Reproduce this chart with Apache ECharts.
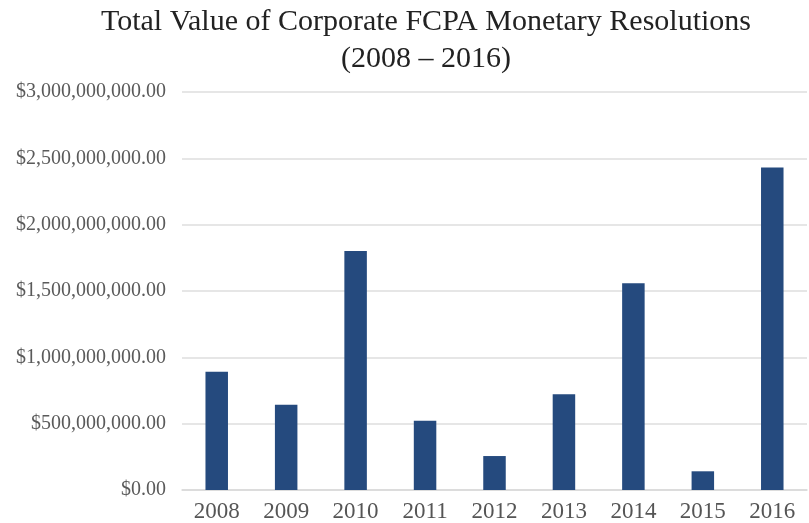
<!DOCTYPE html>
<html>
<head>
<meta charset="utf-8">
<script src="https://cdn.jsdelivr.net/npm/echarts@6/dist/echarts.min.js"></script>
<style>
  html, body { margin: 0; padding: 0; background: #fff; }
  #chart { width: 809px; height: 523px; }
</style>
</head>
<body>
<div id="chart"></div>
<script>
var years = ["2008", "2009", "2010", "2011", "2012", "2013", "2014", "2015", "2016"];
var totals = [892000000, 642000000, 1802000000, 522000000, 256000000, 722000000, 1558000000, 141000000, 2431000000];
var yTicks = { min: 0, max: 3000000000, step: 500000000 };

function money(v) {
  return "$" + Number(v).toLocaleString("en-US", { minimumFractionDigits: 2, maximumFractionDigits: 2 });
}

var chart = echarts.init(document.getElementById("chart"));
chart.setOption({
  animation: false,
  title: {
    text: "Total Value of Corporate FCPA Monetary Resolutions\n(2008 – 2016)",
    left: 421,
    top: -1,
    textAlign: "center",
    textStyle: {
      fontFamily: "Liberation Serif",
      fontWeight: "normal",
      fontSize: 30,
      lineHeight: 37,
      color: "#222"
    }
  },
  grid: { left: 182, right: 2, top: 92, bottom: 30, containLabel: false },
  xAxis: {
    type: "category",
    data: years,
    axisTick: { show: false },
    axisLine: { lineStyle: { color: "#d9d9d9", width: 1.5 } },
    axisLabel: {
      margin: 10,
      fontFamily: "Liberation Serif",
      fontSize: 23,
      color: "#555"
    }
  },
  yAxis: {
    type: "value",
    min: yTicks.min,
    max: yTicks.max,
    interval: yTicks.step,
    axisLine: { show: false },
    axisTick: { show: false },
    splitLine: { lineStyle: { color: "#dedede", width: 1.5 } },
    axisLabel: {
      margin: 16,
      fontFamily: "Liberation Serif",
      fontSize: 20,
      color: "#5a5a5a",
      formatter: money
    }
  },
  series: [{
    type: "bar",
    data: totals,
    barWidth: 22.5,
    itemStyle: { color: "#254a7e" }
  }]
});
</script>
</body>
</html>
